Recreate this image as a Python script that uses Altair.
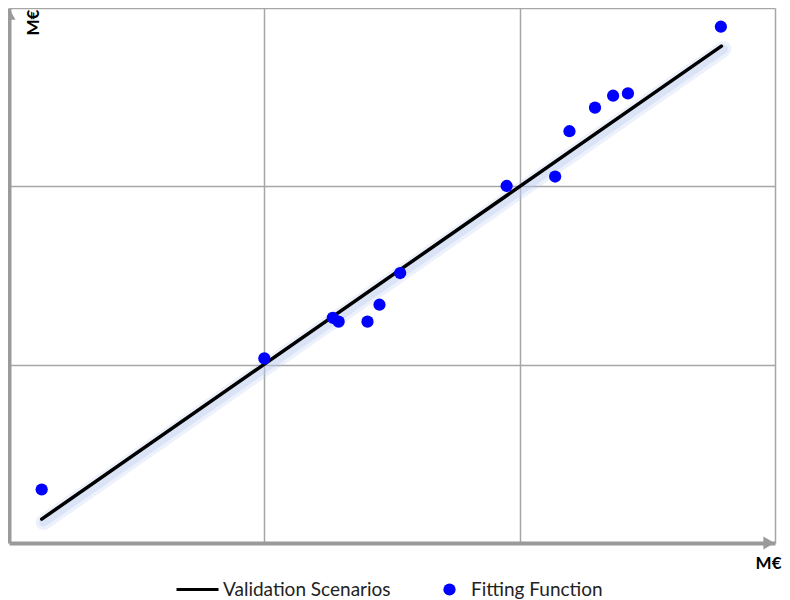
import altair as alt
import pandas as pd

# ---- data ----
fit_x = [0.128, 1.000, 1.268, 1.291, 1.404, 1.451, 1.532, 1.949, 2.139, 2.195, 2.295, 2.366, 2.424, 2.788]
fit_y = [0.300, 1.035, 1.263, 1.241, 1.241, 1.336, 1.514, 2.002, 2.055, 2.309, 2.441, 2.508, 2.521, 2.895]
line_x = [0.128, 2.790]
line_y = [0.134, 2.786]
x_domain = [0, 3]
y_domain = [0, 3]
grid_values = [1, 2, 3]
axis_title = "M€"
series_line = "Validation Scenarios"
series_fit = "Fitting Function"

FONT = "Lato"

pts = pd.DataFrame({"x": fit_x, "y": fit_y, "s": series_fit})
ln = pd.DataFrame({"x": line_x, "y": line_y, "s": series_line})
arrows_up = pd.DataFrame({"x": [x_domain[0]], "y": [y_domain[1]]})
arrows_right = pd.DataFrame({"x": [x_domain[1]], "y": [y_domain[0]]})

xs = alt.Scale(domain=x_domain, nice=False, zero=False)
ys = alt.Scale(domain=y_domain, nice=False, zero=False)

xaxis = alt.Axis(
    values=grid_values, labels=False, ticks=False,
    domain=True, domainColor="#9a9a9a", domainWidth=4,
    grid=True, gridColor="#a6a6a6", gridWidth=1.5,
    title=axis_title, titleFont=FONT, titleFontSize=17, titleFontWeight="bold",
    titleColor="black", titleAlign="right", titleBaseline="alphabetic",
    titleX=772, titleY=25, titleAngle=0,
)
yaxis = alt.Axis(
    values=grid_values, labels=False, ticks=False,
    domain=True, domainColor="#9a9a9a", domainWidth=4,
    grid=True, gridColor="#a6a6a6", gridWidth=1.5,
    title=axis_title, titleFont=FONT, titleFontSize=17, titleFontWeight="bold",
    titleColor="black", titleAlign="center", titleBaseline="alphabetic",
    titleX=29, titleY=14, titleAngle=270,
)

base_x = alt.X("x:Q", scale=xs, axis=xaxis)
base_y = alt.Y("y:Q", scale=ys, axis=yaxis)

glow1 = alt.Chart(ln).mark_line(
    color="#b9c9ee", strokeWidth=16, opacity=0.25, strokeCap="round", xOffset=2, yOffset=3
).encode(x=base_x, y=base_y)
glow2 = alt.Chart(ln).mark_line(
    color="#b9c9ee", strokeWidth=9, opacity=0.35, strokeCap="round", xOffset=2, yOffset=3
).encode(x=base_x, y=base_y)

line = alt.Chart(ln).mark_line(strokeWidth=3.5, strokeCap="round").encode(
    x=base_x, y=base_y,
    stroke=alt.Stroke(
        "s:N",
        scale=alt.Scale(domain=[series_line], range=["black"]),
        legend=alt.Legend(
            orient="none", legendX=166, legendY=559, title=None,
            symbolType="stroke", symbolSize=1764, symbolStrokeWidth=3,
            labelFont=FONT, labelFontSize=19, labelColor="#222222", labelOffset=3,
            labelLimit=0, padding=0,
        ),
    ),
)

points = alt.Chart(pts).mark_circle(size=150, opacity=1).encode(
    x=base_x, y=base_y,
    fill=alt.Fill(
        "s:N",
        scale=alt.Scale(domain=[series_fit], range=["blue"]),
        legend=alt.Legend(
            orient="none", legendX=431, legendY=572, title=None,
            symbolType="circle", symbolSize=150, symbolStrokeWidth=0,
            labelFont=FONT, labelFontSize=19, labelColor="#222222", labelOffset=12,
            labelLimit=0, padding=0,
        ),
    ),
)

arrow_up = alt.Chart(arrows_up).mark_point(
    shape="triangle-up", filled=True, color="#9a9a9a", size=169, opacity=1, yOffset=6
).encode(x=alt.X("x:Q", scale=xs), y=alt.Y("y:Q", scale=ys))
arrow_right = alt.Chart(arrows_right).mark_point(
    shape="triangle-right", filled=True, color="#9a9a9a", size=169, opacity=1, xOffset=-6
).encode(x=alt.X("x:Q", scale=xs), y=alt.Y("y:Q", scale=ys))

chart = alt.layer(glow1, glow2, line, points, arrow_up, arrow_right).properties(
    width=766, height=535,
    autosize=alt.AutoSizeParams(type="none"),
    padding={"left": 1, "top": 0, "right": 7, "bottom": 56},
    background="white",
).configure_view(stroke=None)

chart.save("out.html", embed_options={"renderer": "svg", "actions": False})
